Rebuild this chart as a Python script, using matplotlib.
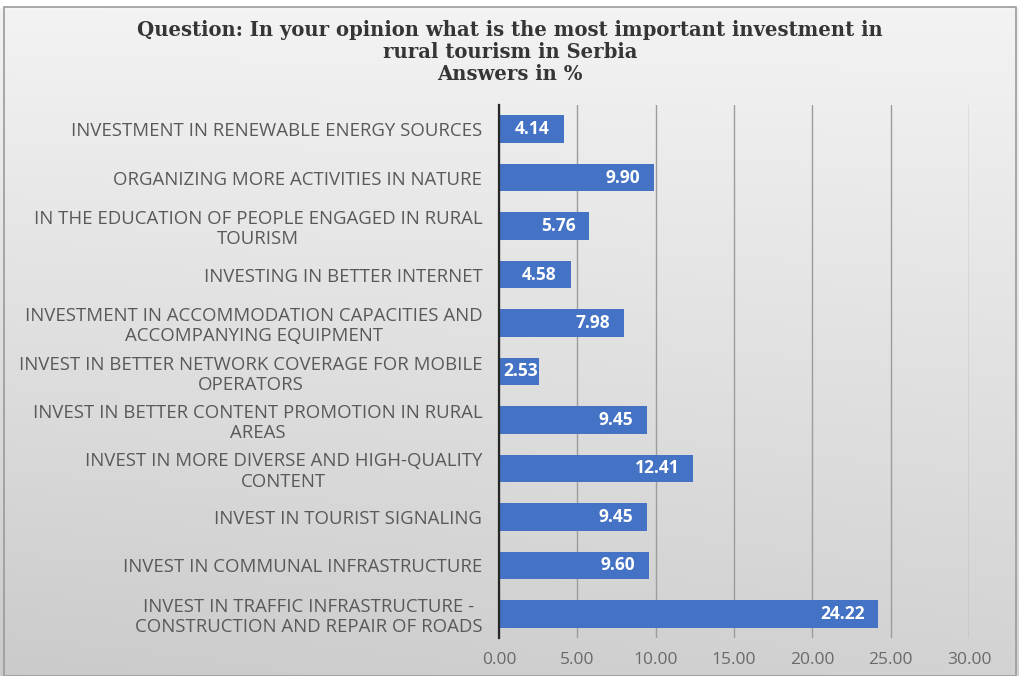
import numpy as np
import matplotlib.pyplot as plt
from matplotlib.patches import Rectangle

categories = [
    "INVESTMENT IN RENEWABLE ENERGY SOURCES",
    "ORGANIZING MORE ACTIVITIES IN NATURE",
    "IN THE EDUCATION OF PEOPLE ENGAGED IN RURAL\nTOURISM",
    "INVESTING IN BETTER INTERNET",
    "INVESTMENT IN ACCOMMODATION CAPACITIES AND\nACCOMPANYING EQUIPMENT",
    "INVEST IN BETTER NETWORK COVERAGE FOR MOBILE\nOPERATORS",
    "INVEST IN BETTER CONTENT PROMOTION IN RURAL\nAREAS",
    "INVEST IN MORE DIVERSE AND HIGH-QUALITY\nCONTENT",
    "INVEST IN TOURIST SIGNALING",
    "INVEST IN COMMUNAL INFRASTRUCTURE",
    "INVEST IN TRAFFIC INFRASTRUCTURE -\nCONSTRUCTION AND REPAIR OF ROADS",
]
answers = [4.14, 9.90, 5.76, 4.58, 7.98, 2.53, 9.45, 12.41, 9.45, 9.60, 24.22]
xticks = [0, 5, 10, 15, 20, 25, 30]

title_lines = ["Question: In your opinion what is the most important investment in",
               "rural tourism in Serbia",
               "Answers in %"]

fig = plt.figure(figsize=(10.2, 6.76), dpi=100)

# grey gradient behind the chart box
bg = fig.add_axes([0, 0, 1, 1], zorder=-10)
bg.set_axis_off()
yy, xx = np.mgrid[0:1:200j, 0:1:200j]
shade = 0.955 - 0.13 * yy - 0.03 * (1 - xx) * yy
bg.imshow(np.dstack([shade] * 3), extent=[0, 1, 0, 1], origin="upper",
          aspect="auto", interpolation="bilinear")
bg.add_patch(Rectangle((0, 1 - 7 / 676), 1, 7 / 676, color="white", zorder=2))
bg.add_patch(Rectangle((4 / 1020, 0), 1 - 8 / 1020, 1 - 7 / 676, fill=False,
                       edgecolor="#9a9a9a", linewidth=1.2, zorder=3))
bg.set_xlim(0, 1)
bg.set_ylim(0, 1)

ax = fig.add_axes([499 / 1020, 38 / 676, 470 / 1020, 533 / 676])
ax.set_facecolor("none")
y = np.arange(len(categories))
bars = ax.barh(y, answers, height=0.57, color="#4472C4", zorder=3)
ax.set_ylim(len(categories) - 0.5, -0.5)
ax.set_xlim(0, 30)

for b, v in zip(bars, answers):
    yc = b.get_y() + b.get_height() / 2
    if v < 3.5:
        # too short for the label: it starts just inside the bar
        ax.annotate(f"{v:.2f}", (0, yc), xytext=(3, 0), textcoords="offset points",
                    ha="left", va="center", color="white", fontweight="bold",
                    fontsize=12.5, family="Open Sans", zorder=4)
    else:
        ax.annotate(f"{v:.2f}", (v, yc), xytext=(-10, 0), textcoords="offset points",
                    ha="right", va="center", color="white", fontweight="bold",
                    fontsize=12.5, family="Open Sans", zorder=4)

ax.set_yticks(y)
ax.set_yticklabels(categories, fontsize=13.4, family="Open Sans", color="#595959",
                   multialignment="center", linespacing=1.15)
ax.set_xticks(xticks)
ax.set_xticklabels([f"{t:.2f}" for t in xticks], fontsize=12.5,
                   family="Open Sans", color="#6a6a6a")
ax.tick_params(axis="y", length=0, pad=12)
ax.tick_params(axis="x", length=0, pad=10)
ax.grid(axis="x", color="#9c9c9c", linewidth=1.0, zorder=0)
for s in ["top", "right", "bottom"]:
    ax.spines[s].set_visible(False)
ax.spines["left"].set_color("#262626")
ax.spines["left"].set_linewidth(1.6)
ax.spines["left"].set_zorder(5)

for line, ypx in zip(title_lines, [36, 58, 80]):
    fig.text(0.5, 1 - ypx / 676, line, ha="center", va="baseline", fontsize=14.1,
             fontweight="bold", family="DejaVu Serif", color="#353535")

fig.savefig("out.png", dpi=100)
